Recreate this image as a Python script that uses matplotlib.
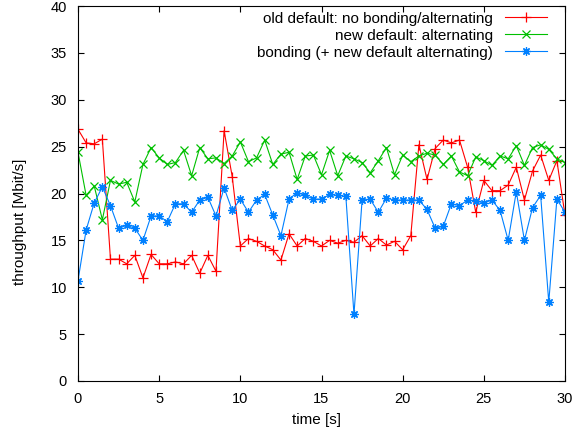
import numpy as np
import matplotlib
matplotlib.use("Agg")
import matplotlib.pyplot as plt

plt.rcParams['font.family'] = ['Liberation Sans', 'DejaVu Sans']

# time axis: one sample every 0.5 s
time_s = np.arange(61) * 0.5

old_default = [26.85, 25.4, 25.3, 25.8, 13.0, 13.0, 12.5, 13.4, 11.0, 13.5,
               12.5, 12.5, 12.7, 12.5, 13.4, 11.5, 13.4, 11.7, 26.7, 21.8,
               14.4, 15.2, 14.9, 14.4, 14.0, 12.9, 15.7, 14.4, 15.2, 14.9,
               14.4, 15.0, 14.7, 15.0, 14.8, 15.5, 14.4, 15.2, 14.5, 14.9,
               14.0, 15.5, 25.2, 21.5, 24.8, 25.7, 25.4, 25.7, 22.8, 18.0,
               21.4, 20.3, 20.3, 20.9, 22.8, 19.3, 22.4, 24.1, 21.4, 23.5,
               17.7]

new_default = [24.4, 19.8, 20.8, 17.2, 21.4, 21.0, 21.2, 19.1, 23.1, 24.9,
               23.8, 23.1, 23.3, 24.6, 21.9, 24.9, 23.7, 23.8, 23.2, 24.0,
               25.5, 23.4, 23.8, 25.7, 23.1, 24.2, 24.4, 21.5, 24.0, 24.1,
               22.0, 24.6, 21.9, 24.0, 23.7, 23.3, 22.2, 23.5, 24.9, 22.0,
               24.1, 23.4, 24.0, 24.3, 24.1, 23.1, 24.0, 22.3, 21.9, 23.9,
               23.5, 23.0, 24.0, 23.7, 25.1, 23.0, 24.9, 25.2, 24.7, 23.7,
               23.3]

bonding = [10.7, 16.1, 19.0, 20.7, 18.7, 16.3, 16.6, 16.3, 15.0, 17.6,
           17.6, 17.0, 18.9, 18.9, 18.0, 19.3, 19.6, 17.6, 20.6, 18.2,
           19.4, 18.0, 19.3, 19.9, 17.7, 15.5, 19.4, 20.1, 19.8, 19.4,
           19.4, 19.9, 19.8, 19.7, 7.1, 19.3, 19.4, 18.0, 19.5, 19.3,
           19.3, 19.3, 19.3, 18.3, 16.3, 16.5, 18.9, 18.7, 19.3, 19.2,
           19.0, 19.3, 18.2, 15.0, 20.2, 15.0, 18.5, 19.8, 8.4, 19.4,
           18.0]

labels = ["old default: no bonding/alternating",
          "new default: alternating",
          "bonding (+ new default alternating)"]

fig = plt.figure(figsize=(5.86, 4.38), dpi=100)
ax = fig.add_axes([78/586, 1 - 381/438, 487/586, 375/438])

ax.plot(time_s, old_default, color="#ff0000", lw=0.8, marker="+",
        ms=7, mew=0.9, label=labels[0])
ax.plot(time_s, new_default, color="#00c000", lw=0.8, marker="x",
        ms=5.5, mew=0.9, label=labels[1])
ax.plot(time_s, bonding, color="#0080ff", lw=0.8, marker=(8, 2, 0),
        ms=6, mew=0.9, label=labels[2])

ax.set_xlim(0, 30)
ax.set_ylim(0, 40)
ax.set_xticks(range(0, 31, 5))
ax.set_yticks(range(0, 41, 5))
ax.tick_params(direction="in", top=True, right=True, length=4, width=0.8,
               labelsize=10.5, pad=8, colors="black")
for s in ax.spines.values():
    s.set_linewidth(0.8)

ax.set_xlabel("time [s]", fontsize=11)
ax.set_ylabel("throughput [Mbit/s]", fontsize=11)
ax.xaxis.set_label_coords(0.49, -0.085)
ax.yaxis.set_label_coords(-0.105, 0.425)

ax.legend(loc="upper right", bbox_to_anchor=(0.963, 0.985), frameon=False,
          markerfirst=False, numpoints=1, fontsize=11, handlelength=2.75,
          handletextpad=0.8, labelspacing=0.2, borderaxespad=0, borderpad=0)

fig.savefig("out.png", dpi=100)
